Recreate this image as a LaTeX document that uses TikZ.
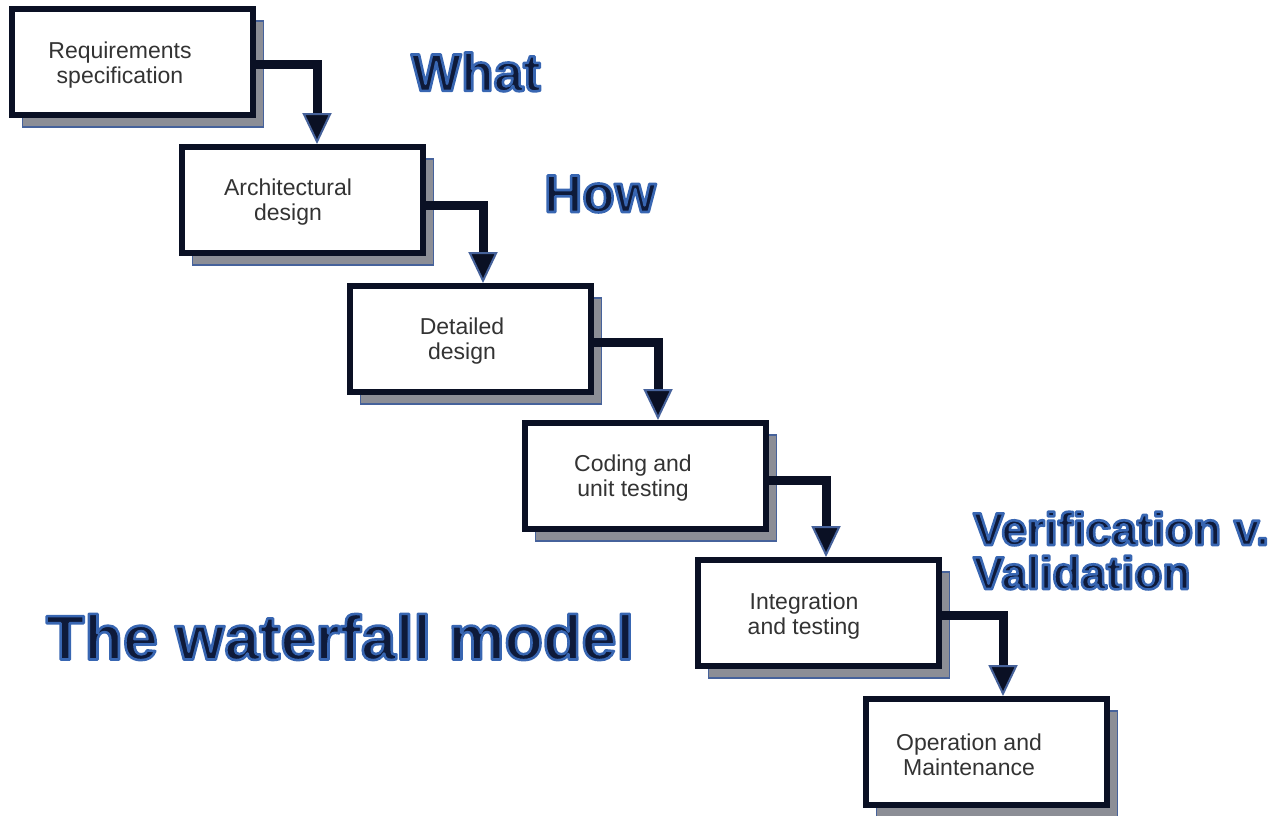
\documentclass[tikz,border=0pt]{standalone}
\usepackage{fontspec}
\setmainfont{Liberation Sans}
\usetikzlibrary{arrows.meta,shadows}
\definecolor{navy}{RGB}{10,16,36}
\definecolor{headblue}{RGB}{14,26,58}
\definecolor{shadowgray}{RGB}{140,142,150}
\definecolor{shadowedge}{RGB}{70,98,155}
% bold caption with a blue rim (fill, then stroke)
\newcommand{\glowtext}[1]{\special{pdf:literal direct q 2 Tr 2.6 w 1 j 0.22 0.40 0.70 RG}#1\special{pdf:literal direct Q}}

\begin{document}
\begin{tikzpicture}[x=1pt, y=-1pt,
  stage/.style={rectangle, draw=navy, line width=6pt, fill=white, minimum width=241pt, minimum height=106pt,
    drop shadow={shadow xshift=11pt, shadow yshift=-12pt, opacity=1, fill=shadowgray, draw=shadowedge, line width=1.5pt}},
  stage text/.style={align=center, inner sep=0pt, text=black!80, font=\fontsize{23}{25}\selectfont},
  flow/.style={line width=9pt, draw=navy, -{Triangle[width=29pt, length=31pt, fill=navy, color=shadowedge, line width=2pt]}},
  heading/.style={inner sep=0pt, text=headblue, font=\fontsize{53}{53}\selectfont\bfseries}]
	\useasboundingbox (0,0) rectangle (1285,816);

	% the six phases
	\node[stage] (req) at (132,62) {};
	\node[stage] (arch) at (302,200) {};
	\node[stage] (det) at (470,339) {};
	\node[stage] (code) at (645,476) {};
	\node[stage] (integ) at (818,613) {};
	\node[stage] (oper) at (986,752) {};

	\node[stage text] (reqt) at ([xshift=-12pt, yshift=-3pt]req.center) {Requirements\\specification};
	\node[stage text] (archt) at ([xshift=-14pt, yshift=-2pt]arch.center) {Architectural\\design};
	\node[stage text] (dett) at ([xshift=-8pt, yshift=-2pt]det.center) {Detailed\\design};
	\node[stage text] (codet) at ([xshift=-12pt, yshift=-2pt]code.center) {Coding and\\unit testing};
	\node[stage text] (integt) at ([xshift=-14pt, yshift=-3pt]integ.center) {Integration\\and testing};
	\node[stage text] (opert) at ([xshift=-17pt, yshift=-3pt]oper.center) {Operation and\\Maintenance};

	% falling arrows
	\draw[flow] ([yshift=-3pt]req.east) -| ([xshift=15pt]arch.north);
	\draw[flow] ([yshift=-5pt]arch.east) -| ([xshift=13pt]det.north);
	\draw[flow] ([yshift=-3pt]det.east) -| ([xshift=13pt]code.north);
	\draw[flow] ([yshift=-4pt]code.east) -| ([xshift=8pt]integ.north);
	\draw[flow] ([yshift=-2pt]integ.east) -| ([xshift=17pt]oper.north);

	% captions
	\node[heading] (what) at (476,72) {\glowtext{What}};
	\node[heading] (how) at (600,194) {\glowtext{How}};
	\node[heading, anchor=base west, font=\fontsize{46}{46}\selectfont\bfseries] (verif) at (973,545) {\glowtext{Verification v.}};
	\node[heading, anchor=base west, font=\fontsize{46}{46}\selectfont\bfseries] (valid) at (973,589) {\glowtext{Validation}};
	\node[heading, font=\fontsize{63}{63}\selectfont\bfseries] (title) at (340,637) {\glowtext{The waterfall model}};
\end{tikzpicture}
\end{document}
